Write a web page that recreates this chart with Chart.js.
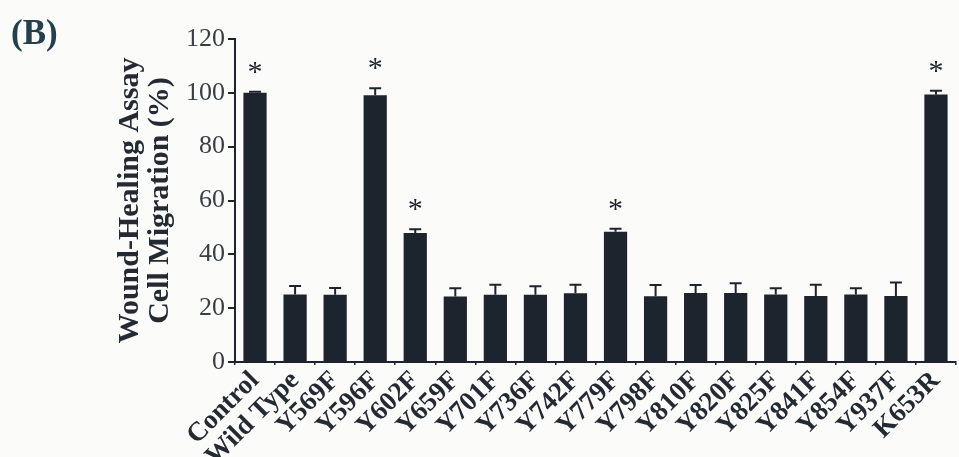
<!DOCTYPE html>
<html>
<head>
<meta charset="utf-8">
<script src="https://cdn.jsdelivr.net/npm/chart.js@4.4.0/dist/chart.umd.min.js"></script>
<style>
  html, body { margin: 0; padding: 0; background: #fbfbf9; }
  #wrap { width: 959px; height: 457px; position: relative; }
</style>
</head>
<body>
<div id="wrap"><canvas id="myChart"></canvas></div>
<script>
const labels = ['Control', 'Wild Type', 'Y569F', 'Y596F', 'Y602F', 'Y659F', 'Y701F', 'Y736F', 'Y742F',
    'Y779F', 'Y798F', 'Y810F', 'Y820F', 'Y825F', 'Y841F', 'Y854F', 'Y937F', 'K653R'];
const migration = [100, 25.1, 25.0, 99.1, 47.9, 24.3, 25.0, 25.0, 25.5, 48.4, 24.4, 25.6, 25.6, 25.1, 24.5, 25.1, 24.5, 99.4];
const errors = [0.4, 3.1, 2.5, 2.6, 1.4, 3.1, 3.7, 3.1, 3.2, 1.1, 4.2, 3.0, 3.7, 2.3, 4.2, 2.3, 5.0, 1.4];
const significant = [1, 0, 0, 1, 1, 0, 0, 0, 0, 1, 0, 0, 0, 0, 0, 0, 0, 1];
const yTicks = [0, 20, 40, 60, 80, 100, 120];

const ink = '#1d242d';

// error bars (upper only) + asterisks
const errorBars = {
    id: 'errorBars',
    afterDatasetsDraw(chart) {
        const ctx = chart.ctx;
        const y = chart.scales.y;
        const meta = chart.getDatasetMeta(0);
        ctx.save();
        ctx.strokeStyle = ink;
        ctx.lineWidth = 2;
        meta.data.forEach((bar, i) => {
            const top = y.getPixelForValue(migration[i] + errors[i]);
            ctx.beginPath();
            ctx.moveTo(bar.x, bar.y);
            ctx.lineTo(bar.x, top);
            ctx.moveTo(bar.x - 6, top);
            ctx.lineTo(bar.x + 6, top);
            ctx.stroke();
            if (significant[i]) {
                ctx.fillStyle = ink;
                ctx.font = '30px "Liberation Serif"';
                ctx.textAlign = 'center';
                ctx.textBaseline = 'middle';
                ctx.fillText('*', bar.x, top - 19);
            }
        });
        ctx.restore();
    }
};

const panelLabel = {
    id: 'panelLabel',
    beforeDraw(chart) {
        const ctx = chart.ctx;
        ctx.save();
        ctx.fillStyle = '#fbfbf9';
        ctx.fillRect(0, 0, chart.width, chart.height);
        ctx.fillStyle = '#24404f';
        ctx.font = 'bold 35px "Liberation Serif"';
        ctx.textBaseline = 'middle';
        ctx.fillText('(B)', 11, 35);
        ctx.restore();
    }
};

const ctx = document.getElementById('myChart').getContext('2d');
const myChart = new Chart(ctx, {
    type: 'bar',
    data: {
        labels: labels,
        datasets: [{
            data: migration,
            backgroundColor: ink,
            borderWidth: 0,
            barPercentage: 0.58,
            categoryPercentage: 1.0
        }]
    },
    options: {
        responsive: true,
        maintainAspectRatio: false,
        animation: false,
        layout: { padding: { left: 115, right: 3, top: 39, bottom: 0 } },
        plugins: { legend: { display: false }, tooltip: { enabled: false } },
        scales: {
            x: {
                offset: true,
                afterFit(scale) {
                    scale.height = 95;
                },
                border: { display: true, color: ink, width: 2 },
                grid: { display: true, drawOnChartArea: false, tickLength: 3, color: ink, lineWidth: 1.5, offset: true },
                ticks: {
                    autoSkip: false,
                    maxRotation: 45,
                    minRotation: 45,
                    padding: 0,
                    color: '#232a33',
                    font: { family: '"Liberation Serif"', size: 27, weight: 'bold' }
                }
            },
            y: {
                min: 0,
                max: 120,
                afterBuildTicks(scale) {
                    scale.ticks = yTicks.map(v => ({ value: v }));
                },
                border: { display: true, color: ink, width: 2 },
                grid: { display: true, drawOnChartArea: false, tickLength: 7, color: ink, lineWidth: 2 },
                ticks: {
                    padding: 3,
                    color: '#3a3f46',
                    font: { family: '"Liberation Serif"', size: 26 }
                },
                title: {
                    display: true,
                    text: ['Wound-Healing Assay', 'Cell Migration (%)'],
                    color: '#232a33',
                    padding: { top: 0, bottom: 8 },
                    font: { family: '"Liberation Serif"', size: 30, weight: 'bold', lineHeight: 1.0 }
                }
            }
        }
    },
    plugins: [panelLabel, errorBars]
});
</script>
</body>
</html>
